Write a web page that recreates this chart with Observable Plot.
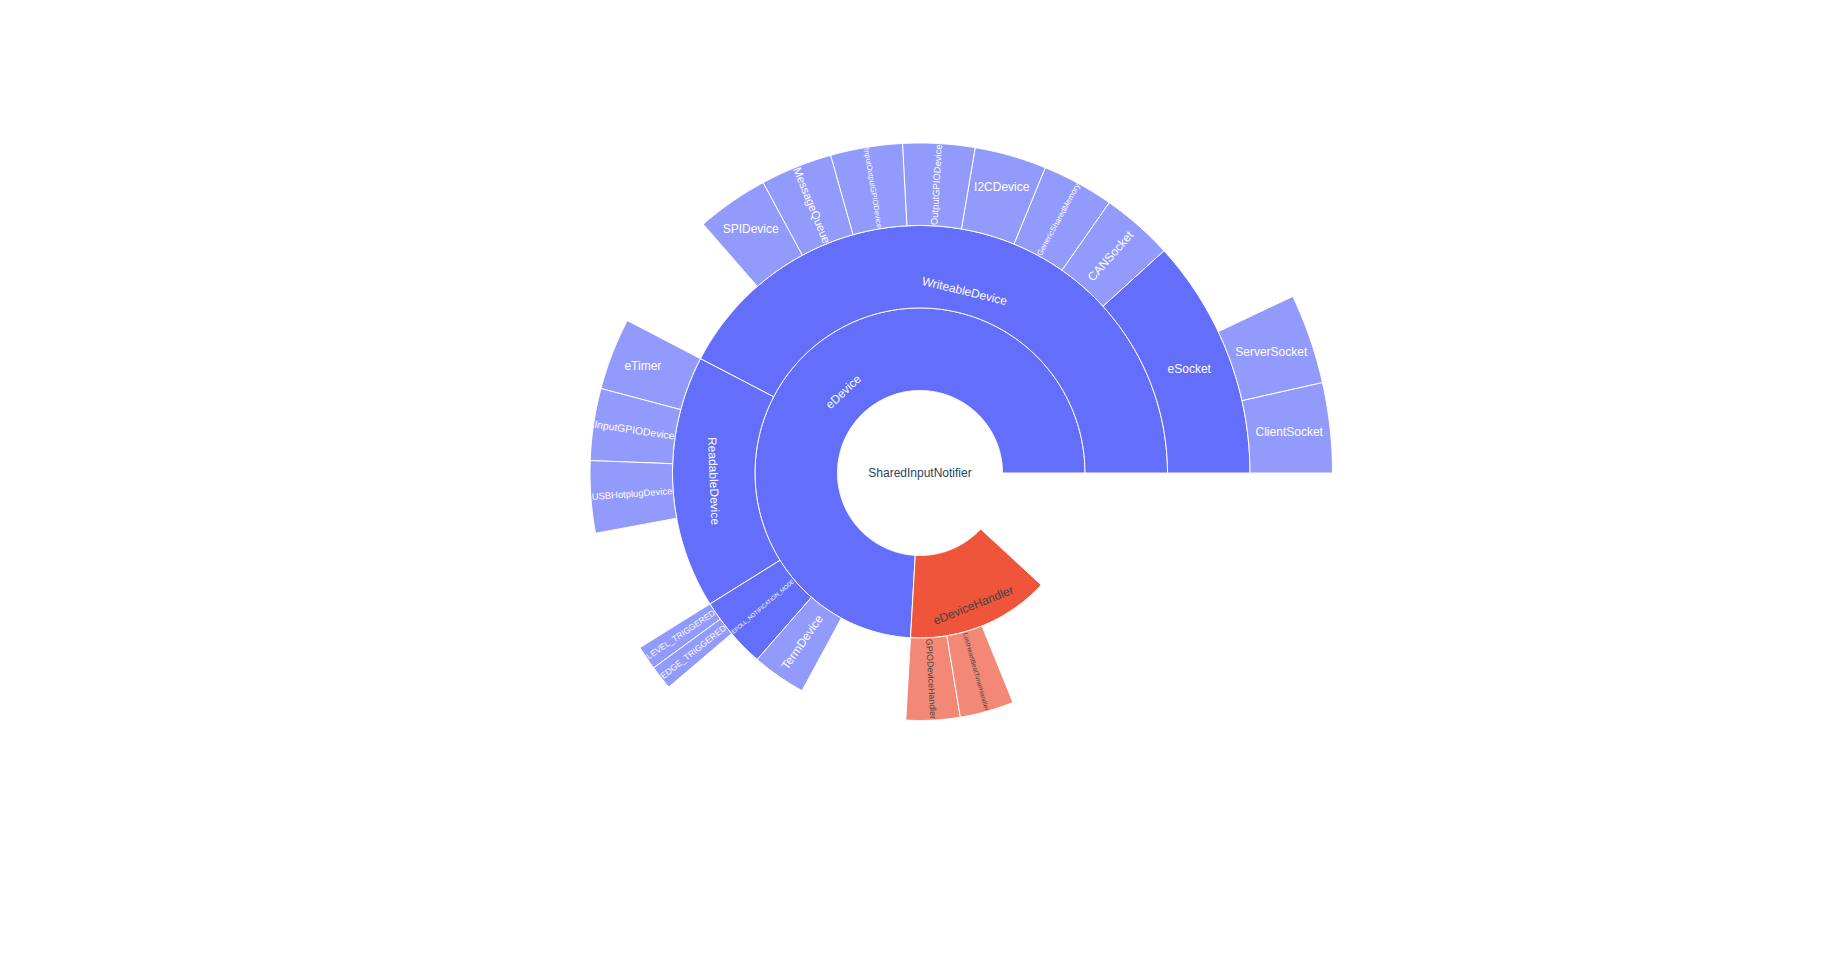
<!DOCTYPE html>
<html>
<head>
<meta charset="utf-8">
<script src="https://cdn.jsdelivr.net/npm/d3@7"></script>
<script src="https://cdn.jsdelivr.net/npm/@observablehq/plot@0.6"></script>
<style>
  html, body { margin: 0; padding: 0; background: #ffffff; }
  #chart { width: 1839px; height: 966px; }
</style>
</head>
<body>
<div id="chart"></div>
<script>
// ---- data ----
const labels = [
  "SharedInputNotifier",
  "eDevice", "eDeviceHandler",
  "WriteableDevice", "ReadableDevice", "EPOLL_NOTIFICATION_MODE", "TermDevice",
  "eSocket", "CANSocket", "GenericSharedMemory", "I2CDevice", "OutputGPIODevice",
  "InputOutputGPIODevice", "MessageQueue", "SPIDevice",
  "ClientSocket", "ServerSocket",
  "eTimer", "InputGPIODevice", "USBHotplugDevice",
  "LEVEL_TRIGGERED", "EDGE_TRIGGERED",
  "GPIODeviceHandler", "LostHeartBeatTimerHandler"
];
const parents = [
  "",
  "SharedInputNotifier", "SharedInputNotifier",
  "eDevice", "eDevice", "eDevice", "eDevice",
  "WriteableDevice", "WriteableDevice", "WriteableDevice", "WriteableDevice", "WriteableDevice",
  "WriteableDevice", "WriteableDevice", "WriteableDevice",
  "eSocket", "eSocket",
  "ReadableDevice", "ReadableDevice", "ReadableDevice",
  "EPOLL_NOTIFICATION_MODE", "EPOLL_NOTIFICATION_MODE",
  "eDeviceHandler", "eDeviceHandler"
];
// total values per node
const values = [
  28.4,
  21.04, 3.99,
  12.03, 4.69, 1.335, 1,
  3.34, 1, 1, 1, 1,
  1, 1, 1,
  1, 1,
  1, 1, 1,
  0.335, 0.335,
  1, 1
];
const colorway = ["#636efa", "#EF553B"];

// ---- layout constants ----
const W = 1839, H = 966;
const CX = 919.5, CY = 472.5;
const RING = 82.5;
const LEAF_OPACITY = 0.7;
const FONT = "'Liberation Sans', Arial, sans-serif";
const FONT_SIZE = 12;
const TEXTPAD = 3;

// ---- hierarchy ----
const nodes = labels.map((l, i) => ({id: l, parent: parents[i], value: values[i], children: []}));
const byId = new Map(nodes.map(n => [n.id, n]));
nodes.forEach(n => { if (n.parent) byId.get(n.parent).children.push(n); });
const root = nodes.find(n => !n.parent);
function layout(n, a0, depth) {
  n.a0 = a0;
  n.a1 = a0 + n.value / root.value * 360;
  n.depth = depth;
  let a = a0;
  for (const c of n.children) { layout(c, a, depth + 1); a = c.a1; }
}
layout(root, 0, 0);
root.children.forEach((c, i) => { c.base = colorway[i % colorway.length]; });
function inherit(n) { n.children.forEach(c => { if (!c.base) c.base = n.base; inherit(c); }); }
inherit(root);

function blend(hex, op) {
  const c = d3.rgb(hex);
  return d3.rgb(c.r * op + 255 * (1 - op), c.g * op + 255 * (1 - op), c.b * op + 255 * (1 - op)).formatHex();
}
function contrast(hex) {
  const c = d3.rgb(hex);
  const br = (c.r * 299 + c.g * 587 + c.b * 114) / 1000;
  return br >= 128 ? "#444" : "#ffffff";
}

// ---- sector polygons ----
const poly = [];
const deg = Math.PI / 180;
for (const n of nodes) {
  if (n === root) continue;
  const r0 = n.depth * RING, r1 = (n.depth + 1) * RING;
  const leaf = n.children.length === 0;
  const fill = leaf ? blend(n.base, LEAF_OPACITY) : n.base;
  const span = n.a1 - n.a0;
  const steps = Math.max(2, Math.ceil(span / 0.5));
  const pts = [];
  for (let k = 0; k <= steps; k++) {
    const a = (n.a0 + span * k / steps) * deg;
    pts.push([r1 * Math.cos(a), r1 * Math.sin(a)]);
  }
  for (let k = steps; k >= 0; k--) {
    const a = (n.a0 + span * k / steps) * deg;
    pts.push([r0 * Math.cos(a), r0 * Math.sin(a)]);
  }
  pts.push(pts[0]);
  pts.forEach(([x, y]) => poly.push({id: n.id, x, y, fill}));
}

// ---- text placement (plotly-like "auto" inside text orientation) ----
const ctx = document.createElement("canvas").getContext("2d");
ctx.font = `${FONT_SIZE}px ${FONT}`;
function norm(r) { return (((r + 90) % 180) + 180) % 180 - 90; }
function maxHalf(a, half, r, ring) {
  const q = a + 1 / (2 * Math.tan(half));
  return r * Math.min(1 / (Math.sqrt(q * q + 0.5) + q), ring / (Math.sqrt(a * a + ring / 2) + a));
}
const texts = [];
for (const n of nodes) {
  const m = ctx.measureText(n.id);
  const w = m.width;
  const h = (m.fontBoundingBoxAscent + m.fontBoundingBoxDescent) || 13.4;
  const r0 = n === root ? 0 : n.depth * RING;
  const r1 = (n.depth + 1) * RING;
  const span = n === root ? 360 : n.a1 - n.a0;
  const mid = n === root ? 0 : (n.a0 + n.a1) / 2;
  const half = (span <= 180 ? span / 2 : (span - 360) / 2) * deg;
  const ring = 1 - r0 / r1;
  const rIns = n === root ? 1 : Math.max(0, Math.min(1 / (1 + 1 / Math.sin(half)), ring / 2));
  const diag = Math.hypot(w, h);
  const cands = [];
  const hScale = (2 * rIns * r1 - 2 * TEXTPAD) / diag;
  const hT = {scale: hScale, rc: 1 - rIns, rot: 0};
  let t;
  if (hScale >= 1) t = hT;
  else {
    cands.push(hT);
    const rp = Math.max(0, r1 - 2 * TEXTPAD);
    let a = w / h;
    let s = maxHalf(a, half, rp, ring);
    cands.push({scale: 2 * s / h, rc: 1 - (s / rp) ** 2 / 2 - a * s / rp, rot: norm(-mid)});
    a = h / w;
    s = maxHalf(a, half, rp, ring);
    cands.push({scale: 2 * s / w, rc: 1 - (s / rp) ** 2 / 2 - a * s / rp, rot: norm(90 - mid)});
    t = cands[0];
    for (const c of cands) if (c.scale > t.scale) t = c;
  }
  const rr = t.rc * r1;
  texts.push({
    text: n.id,
    x: rr * Math.cos(mid * deg),
    y: rr * Math.sin(mid * deg),
    rotate: t.rot,
    size: FONT_SIZE * Math.min(1, t.scale),
    color: n === root ? "#2a3f5f" : contrast(n.base)
  });
}

const chart = Plot.plot({
  width: W,
  height: H,
  margin: 0,
  x: {domain: [-CX, W - CX], axis: null},
  y: {domain: [-(H - CY), CY], axis: null},
  color: {type: "identity"},
  style: {fontFamily: FONT, background: "#ffffff"},
  marks: [
    Plot.line(poly, {x: "x", y: "y", z: "id", fill: "fill", stroke: "#ffffff", strokeWidth: 1, curve: "linear"}),
    Plot.text(texts, {
      x: "x", y: "y", text: "text", rotate: "rotate", fontSize: "size", fill: "color",
      textAnchor: "middle", lineAnchor: "middle", fontFamily: FONT
    })
  ]
});
document.getElementById("chart").appendChild(chart);
</script>
</body>
</html>
